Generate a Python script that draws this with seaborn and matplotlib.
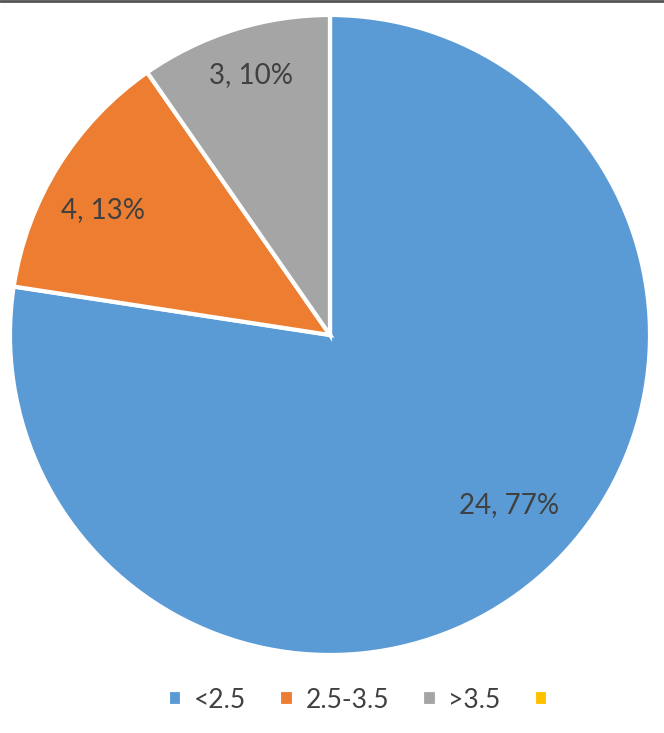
import matplotlib
matplotlib.use("Agg")
import matplotlib.pyplot as plt
import seaborn as sns
import numpy as np

categories = ['<2.5', '2.5-3.5', '>3.5', '']
counts = [24, 4, 3, 0]
colors = ['#5B9BD5', '#ED7D31', '#A5A5A5', '#FFC000']

sns.set_theme(style="white")
plt.rcParams['font.family'] = ['Lato', 'DejaVu Sans']

total = sum(counts)


def make_label(pct):
    n = int(round(pct * total / 100.0))
    if n == 0:
        return ''
    return '{}, {:.0f}%'.format(n, pct)


fig = plt.figure(figsize=(6.64, 7.33), dpi=100)
ax = fig.add_axes([10 / 664, 78 / 733, 640 / 664, 640 / 733])
palette = sns.color_palette(colors)

wedges, texts, autotexts = ax.pie(
    counts, colors=palette, startangle=90, counterclock=False,
    autopct=make_label, pctdistance=0.78, radius=1.0,
    wedgeprops=dict(edgecolor='white', linewidth=3),
    textprops=dict(color='#404040', fontsize=20))
ax.set_xlim(-1.0, 1.0)
ax.set_ylim(-1.0, 1.0)
ax.set_aspect('equal')

# nudge labels to where Excel's "best fit" puts them
label_r = [0.77, 0.81, 0.85, 0.8]
label_turn = [5.8, 3.2, -0.6, 0.0]
for w, t, r, d in zip(wedges, autotexts, label_r, label_turn):
    mid = np.deg2rad((w.theta1 + w.theta2) / 2 + d)
    t.set_position((r * np.cos(mid), r * np.sin(mid)))

# top frame line as in the screenshot
fig.add_artist(plt.Line2D([0, 1], [0.999, 0.999], color='#555555', linewidth=2,
                          transform=fig.transFigure))

leg = fig.legend(wedges, categories, loc='center', ncol=4,
                 bbox_to_anchor=(0.548, 1 - 700 / 733), frameon=False,
                 fontsize=19, handlelength=0.55, handleheight=0.55,
                 handletextpad=0.45, columnspacing=1.25)
for t in leg.get_texts():
    t.set_color('#404040')

fig.savefig('out.png', dpi=100)
